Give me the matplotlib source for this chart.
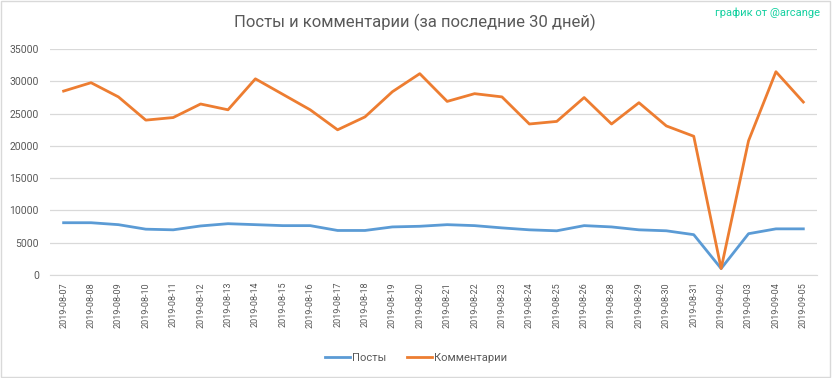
import matplotlib
matplotlib.use("Agg")
import matplotlib.pyplot as plt
from matplotlib.patches import Rectangle

# dates shown on the category axis (08-27 and 09-01 are missing in the source)
dates = [
    "2019-08-07", "2019-08-08", "2019-08-09", "2019-08-10", "2019-08-11",
    "2019-08-12", "2019-08-13", "2019-08-14", "2019-08-15", "2019-08-16",
    "2019-08-17", "2019-08-18", "2019-08-19", "2019-08-20", "2019-08-21",
    "2019-08-22", "2019-08-23", "2019-08-24", "2019-08-25", "2019-08-26",
    "2019-08-28", "2019-08-29", "2019-08-30", "2019-08-31", "2019-09-02",
    "2019-09-03", "2019-09-04", "2019-09-05",
]
posts = [
    8100, 8100, 7800, 7100, 7000, 7600, 7950, 7800, 7650, 7650,
    6900, 6900, 7450, 7550, 7800, 7650, 7300, 7000, 6850, 7650,
    7450, 7000, 6850, 6250, 1000, 6400, 7150, 7150,
]
comments = [
    28500, 29800, 27600, 24000, 24400, 26500, 25600, 30400, 28000, 25600,
    22500, 24500, 28400, 31200, 26900, 28100, 27600, 23400, 23800, 27500,
    23400, 26700, 23100, 21500, 1000, 20800, 31500, 26800,
]
yticks = [0, 5000, 10000, 15000, 20000, 25000, 30000, 35000]

text_color = "#595959"
grid_color = "#d9d9d9"
plt.rcParams["font.family"] = ["Roboto", "DejaVu Sans"]

fig = plt.figure(figsize=(8.32, 3.78), dpi=100)
ax = fig.add_axes([0.060, 0.2725, 0.922, 0.5975])

x = list(range(len(dates)))
ax.plot(x, posts, color="#5b9bd5", lw=2.0, label="Посты", solid_joinstyle="round")
ax.plot(x, comments, color="#ed7d31", lw=2.0, label="Комментарии", solid_joinstyle="round")

ax.set_xlim(-0.5, len(dates) - 0.5)
ax.set_ylim(0, 35000)
ax.set_yticks(yticks)
ax.set_yticklabels([str(v) for v in yticks])
ax.set_xticks(x)
ax.set_xticklabels(dates, rotation=90, fontsize=6.5)
ax.tick_params(axis="both", length=0, colors=text_color, labelsize=7.5)
ax.tick_params(axis="x", labelsize=6.5, pad=5)
ax.tick_params(axis="y", pad=8)
ax.grid(axis="y", color=grid_color, lw=0.9)
ax.set_axisbelow(True)
for side in ["left", "right", "top"]:
    ax.spines[side].set_visible(False)
ax.spines["bottom"].set_color(grid_color)

fig.text(0.499, 0.94, "Посты и комментарии (за последние 30 дней)",
         ha="center", va="center", fontsize=12, color=text_color)
fig.text(0.985, 0.965, "график от @arcange", ha="right", va="center",
         fontsize=8, color="#14d0a0")

fig.legend(loc="center", bbox_to_anchor=(0.5, 0.053), ncol=2, frameon=False,
           fontsize=8, labelcolor=text_color, handlelength=2.2,
           handletextpad=0.2, columnspacing=1.9)

fig.patches.append(Rectangle((0.001, 0.002), 0.997, 0.995, transform=fig.transFigure,
                             fill=False, edgecolor="#d9d9d9", lw=1))

fig.savefig("out.png", dpi=100)
